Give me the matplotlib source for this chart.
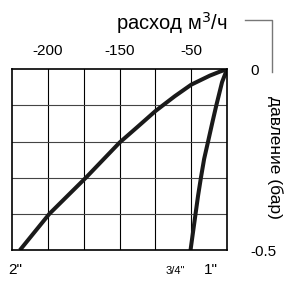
import matplotlib
matplotlib.use("Agg")
import matplotlib.pyplot as plt

plt.rcParams['font.family'] = ['Liberation Sans', 'DejaVu Sans']

# horizontal position in grid columns (0 = right edge), pressure in bar
curve_2in_x = [0.0, -0.2, -0.48, -1.0, -1.46, -1.79, -2.0, -2.48, -3.0, -3.94, -4.43, -4.96, -5.78]
curve_2in_p = [0.0, -0.007, -0.018, -0.043, -0.075, -0.1, -0.116, -0.158, -0.203, -0.3, -0.348, -0.4, -0.5]

curve_1in_x = [0.0, -0.07, -0.14, -0.30, -0.41, -0.53, -0.64, -0.73, -0.81, -0.88, -0.95, -1.02]
curve_1in_p = [0.0, -0.018, -0.036, -0.1, -0.147, -0.2, -0.248, -0.3, -0.35, -0.4, -0.45, -0.5]

flow_ticks = [-5, -3, -1]
flow_labels = ['-200', '-150', '-50']
pressure_ticks = [0, -0.5]
pressure_labels = ['0', '-0.5']

fig = plt.figure(figsize=(2.86, 2.82), dpi=100)
ax = fig.add_axes([0.042, 0.113, 0.752, 0.642])

ax.set_xlim(-6, 0)
ax.set_ylim(-0.5, 0)

# grid
for x in range(-5, 0):
    ax.axvline(x, color='black', lw=0.8)
for y in [-0.1, -0.2, -0.3, -0.4]:
    ax.axhline(y, color='#444444', lw=0.8)

ax.plot(curve_2in_x, curve_2in_p, color='#1a1a1a', lw=2.9,
        solid_joinstyle='round', solid_capstyle='butt')
ax.plot(curve_1in_x, curve_1in_p, color='#1a1a1a', lw=2.9,
        solid_joinstyle='round', solid_capstyle='butt')

for s in ax.spines.values():
    s.set_linewidth(1.2)

ax.xaxis.tick_top()
ax.set_xticks(flow_ticks)
ax.set_xticklabels(flow_labels, fontsize=11)
ax.yaxis.tick_right()
ax.set_yticks(pressure_ticks)
ax.set_yticklabels(pressure_labels, fontsize=11)
ax.tick_params(length=0, pad=8)
ax.tick_params(axis='y', pad=17)

# titles
fig.text(0.794, 0.92, 'расход м$^3$/ч', fontsize=14.5, ha='right', va='center')
fig.text(0.962, 0.44, 'давление (бар)', fontsize=12.5, rotation=-90,
         ha='center', va='center')
fig.add_artist(plt.Line2D([0.857, 0.951, 0.951], [0.929, 0.929, 0.745],
                          color='#777777', lw=1.0, transform=fig.transFigure))

# pipe size labels
fig.text(0.052, 0.043, '2"', fontsize=11, ha='center', va='center')
fig.text(0.612, 0.040, '3/4"', fontsize=8, ha='center', va='center')
fig.text(0.738, 0.043, '1"', fontsize=11, ha='center', va='center')

fig.savefig('out.png', dpi=100)
